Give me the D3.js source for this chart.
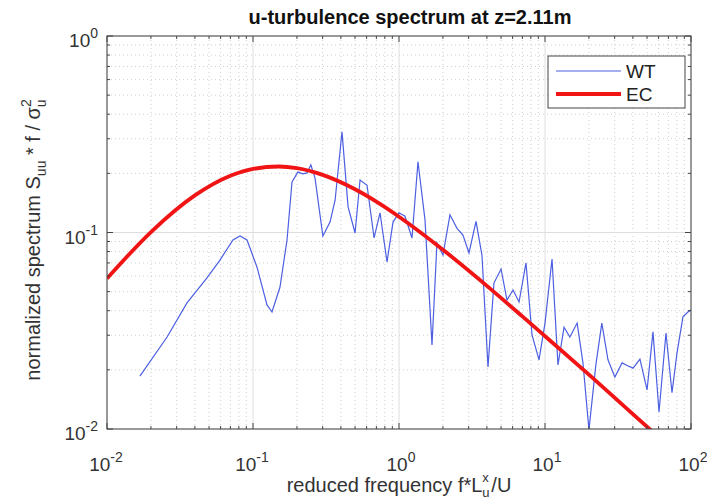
<!DOCTYPE html>
<html>
<head>
<meta charset="utf-8">
<script src="https://cdn.jsdelivr.net/npm/d3@7"></script>
<style>
body { margin: 0; background: #fff; }
svg { font-family: "Liberation Sans", Arial, sans-serif; }
</style>
</head>
<body>
<svg width="707" height="502"></svg>
<script>
// reduced frequency values of the wind tunnel (WT) spectrum
var wtFreq = [0.0168, 0.0258, 0.0353, 0.0484, 0.0594, 0.0729, 0.0815, 0.0910, 0.1064, 0.1247,
	0.1349, 0.1531, 0.171, 0.185, 0.203, 0.220, 0.234, 0.249, 0.266, 0.301,
	0.337, 0.365, 0.407, 0.448, 0.500, 0.541, 0.604, 0.675, 0.741, 0.828,
	0.910, 1.0, 1.099, 1.228, 1.349, 1.507, 1.683, 1.820, 2.0, 2.234,
	2.496, 2.742, 3.015, 3.368, 3.70, 4.07, 4.47, 5.00, 5.49, 6.04,
	6.64, 7.41, 8.15, 9.10, 10.0, 11.17, 12.27, 13.5, 14.8, 16.6,
	18.2, 20.0, 22.3, 24.5, 27.0, 30.1, 33.7, 36.8, 40.1, 44.7,
	50.0, 54.9, 60.4, 67.4, 74.1, 80.2, 88.1, 95.3, 100];
var wtSpec = [0.0186, 0.0294, 0.0438, 0.0587, 0.0724, 0.0916, 0.0960, 0.0916, 0.0668, 0.0428,
	0.0394, 0.0528, 0.0916, 0.181, 0.203, 0.199, 0.201, 0.221, 0.189, 0.0960,
	0.113, 0.146, 0.325, 0.135, 0.0994, 0.185, 0.174, 0.0938, 0.126, 0.0708,
	0.113, 0.126, 0.121, 0.0938, 0.229, 0.116, 0.0268, 0.0885, 0.0768, 0.123,
	0.105, 0.0971, 0.0787, 0.114, 0.0768, 0.0207, 0.0553, 0.0652, 0.0453, 0.0510,
	0.0443, 0.0700, 0.0301, 0.0225, 0.0346, 0.0733, 0.0212, 0.0330, 0.0294, 0.0346,
	0.0217, 0.0099, 0.0212, 0.0346, 0.0225, 0.0184, 0.0217, 0.0210, 0.0204, 0.0227,
	0.0158, 0.0312, 0.0122, 0.0308, 0.0153, 0.0244, 0.0372, 0.0394, 0.0403];

// EC model curve, read at a few frequencies
var ecFreq = [0.01, 0.02, 0.04, 0.07, 0.1, 0.15, 0.2, 0.3, 0.5, 0.7, 1, 2, 4, 7, 10, 20, 40, 60];
var ecSpec = [0.0583, 0.1005, 0.1544, 0.1943, 0.2106, 0.2167, 0.2125, 0.1964, 0.1659, 0.1435,
	0.1203, 0.0817, 0.0535, 0.0374, 0.0297, 0.0189, 0.0119, 0.0091];

var xDecades = [-2, -1, 0, 1, 2];
var yDecades = [-2, -1, 0];
var seriesNames = ['WT', 'EC'];
var seriesColors = ['#4c5fe2', '#f01414'];

var svg = d3.select('svg');
// note: "top" is taken by window.top, so use a margin object
var m = { l: 107, r: 691, t: 36, b: 429 };

var x = d3.scaleLog().domain([1e-2, 1e2]).range([m.l, m.r]);
var y = d3.scaleLog().domain([1e-2, 1e0]).range([m.b, m.t]);

// minor tick positions
function minors(decades){
	var out = [];
	for(let i = 0; i < decades.length - 1; i++){
		for(let k = 2; k < 10; k++){ out.push(k * Math.pow(10, decades[i])); }
	}
	return out;
}
var xMinor = minors(xDecades);
var yMinor = minors(yDecades);
var xMajor = xDecades.map(d => Math.pow(10, d));
var yMajor = yDecades.map(d => Math.pow(10, d));

var grid = svg.append('g');
grid.selectAll(null).data(xMinor).enter().append('line')
	.attr('x1', d => x(d)).attr('x2', d => x(d)).attr('y1', m.t).attr('y2', m.b)
	.style('stroke', '#cfcfcf').style('stroke-width', 1).style('stroke-dasharray', '1,3');
grid.selectAll(null).data(yMinor).enter().append('line')
	.attr('y1', d => y(d)).attr('y2', d => y(d)).attr('x1', m.l).attr('x2', m.r)
	.style('stroke', '#cfcfcf').style('stroke-width', 1).style('stroke-dasharray', '1,3');
grid.selectAll(null).data(xMajor).enter().append('line')
	.attr('x1', d => x(d)).attr('x2', d => x(d)).attr('y1', m.t).attr('y2', m.b)
	.style('stroke', '#dedede').style('stroke-width', 1);
grid.selectAll(null).data(yMajor).enter().append('line')
	.attr('y1', d => y(d)).attr('y2', d => y(d)).attr('x1', m.l).attr('x2', m.r)
	.style('stroke', '#dedede').style('stroke-width', 1);

// data lines
svg.append('clipPath').attr('id', 'clip').append('rect')
	.attr('x', m.l).attr('y', m.t).attr('width', m.r - m.l).attr('height', m.b - m.t);
var plot = svg.append('g').attr('clip-path', 'url(#clip)');

var wtLine = d3.line().x(d => x(d[0])).y(d => y(d[1]));
plot.append('path').datum(d3.zip(wtFreq, wtSpec))
	.attr('d', wtLine)
	.style('fill', 'none').style('stroke', seriesColors[0]).style('stroke-width', 1.2);

var ecLine = d3.line().x(d => x(d[0])).y(d => y(d[1])).curve(d3.curveMonotoneX);
plot.append('path').datum(d3.zip(ecFreq, ecSpec))
	.attr('d', ecLine)
	.style('fill', 'none').style('stroke', seriesColors[1]).style('stroke-width', 3.8);

// box and inward ticks on all four sides
var axes = svg.append('g').style('stroke', '#444').style('stroke-width', 1);
axes.append('rect').attr('x', m.l).attr('y', m.t).attr('width', m.r - m.l).attr('height', m.b - m.t)
	.style('fill', 'none');
function xTicks(vals, len){
	axes.selectAll(null).data(vals).enter().append('line')
		.attr('x1', d => x(d)).attr('x2', d => x(d)).attr('y1', m.b).attr('y2', m.b - len);
	axes.selectAll(null).data(vals).enter().append('line')
		.attr('x1', d => x(d)).attr('x2', d => x(d)).attr('y1', m.t).attr('y2', m.t + len);
}
function yTicks(vals, len){
	axes.selectAll(null).data(vals).enter().append('line')
		.attr('y1', d => y(d)).attr('y2', d => y(d)).attr('x1', m.l).attr('x2', m.l + len);
	axes.selectAll(null).data(vals).enter().append('line')
		.attr('y1', d => y(d)).attr('y2', d => y(d)).attr('x1', m.r).attr('x2', m.r - len);
}
xTicks(xMajor, 6); xTicks(xMinor, 3);
yTicks(yMajor, 6); yTicks(yMinor, 3);

// tick labels 10^n
function powLabel(g, n, anchor){
	var t = g.append('text').attr('text-anchor', anchor).style('font-size', '19px').style('fill', '#333');
	t.append('tspan').text('10');
	t.append('tspan').attr('dy', -9).style('font-size', '14px').text(n);
	return t;
}
xDecades.forEach(function(n){
	var g = svg.append('g').attr('transform', 'translate(' + (x(Math.pow(10, n)) + (n < 0 ? -1 : 2)) + ',471)');
	powLabel(g, n, 'middle');
});
yDecades.forEach(function(n){
	var g = svg.append('g').attr('transform', 'translate(98,' + (y(Math.pow(10, n)) + 11) + ')');
	powLabel(g, n, 'end');
});

// title
svg.append('text').attr('x', (m.l + m.r) / 2 + 11).attr('y', 24).attr('text-anchor', 'middle')
	.style('font-size', '20px').style('font-weight', 'bold').style('fill', '#111')
	.text('u-turbulence spectrum at z=2.11m');

// x label: main text, then stacked sup/sub as their own texts
var xl = svg.append('text').attr('x', (m.l + m.r) / 2).attr('y', 492).attr('text-anchor', 'middle')
	.style('font-size', '20px').style('fill', '#333');
xl.append('tspan').text('reduced frequency f*L');
xl.append('tspan').attr('dx', 9).text('/U');
var xb = xl.node().getBBox();
var lEnd = xb.x + xb.width - 30;
svg.append('text').attr('x', lEnd + 1).attr('y', 482).style('font-size', '13px').style('fill', '#333').text('x');
svg.append('text').attr('x', lEnd + 1).attr('y', 497).style('font-size', '13px').style('fill', '#333').text('u');

// y label
var yl = svg.append('text').attr('transform', 'translate(40,240) rotate(-90)')
	.attr('text-anchor', 'middle').style('font-size', '20px').style('fill', '#333');
yl.append('tspan').text('normalized spectrum S');
yl.append('tspan').attr('dy', 6).style('font-size', '14px').text('uu');
yl.append('tspan').attr('dy', -6).text(' * f / \u03c3');
yl.append('tspan').attr('dy', -9).style('font-size', '14px').text('2');
yl.append('tspan').attr('dx', -8).attr('dy', 15).style('font-size', '14px').text('u');

// legend
var legend = svg.append('g').attr('transform', 'translate(548,56)');
legend.append('rect').attr('width', 137).attr('height', 52)
	.style('fill', '#fff').style('stroke', '#444').style('stroke-width', 1);
seriesNames.forEach(function(name, i){
	var ly = 15 + i * 23;
	legend.append('line').attr('x1', 8).attr('x2', 73).attr('y1', ly).attr('y2', ly)
		.style('stroke', seriesColors[i]).style('stroke-width', i == 0 ? 1.2 : 3.8);
	legend.append('text').attr('x', 78).attr('y', ly + 7).style('font-size', '19px').style('fill', '#222')
		.text(name);
});
</script>
</body>
</html>
